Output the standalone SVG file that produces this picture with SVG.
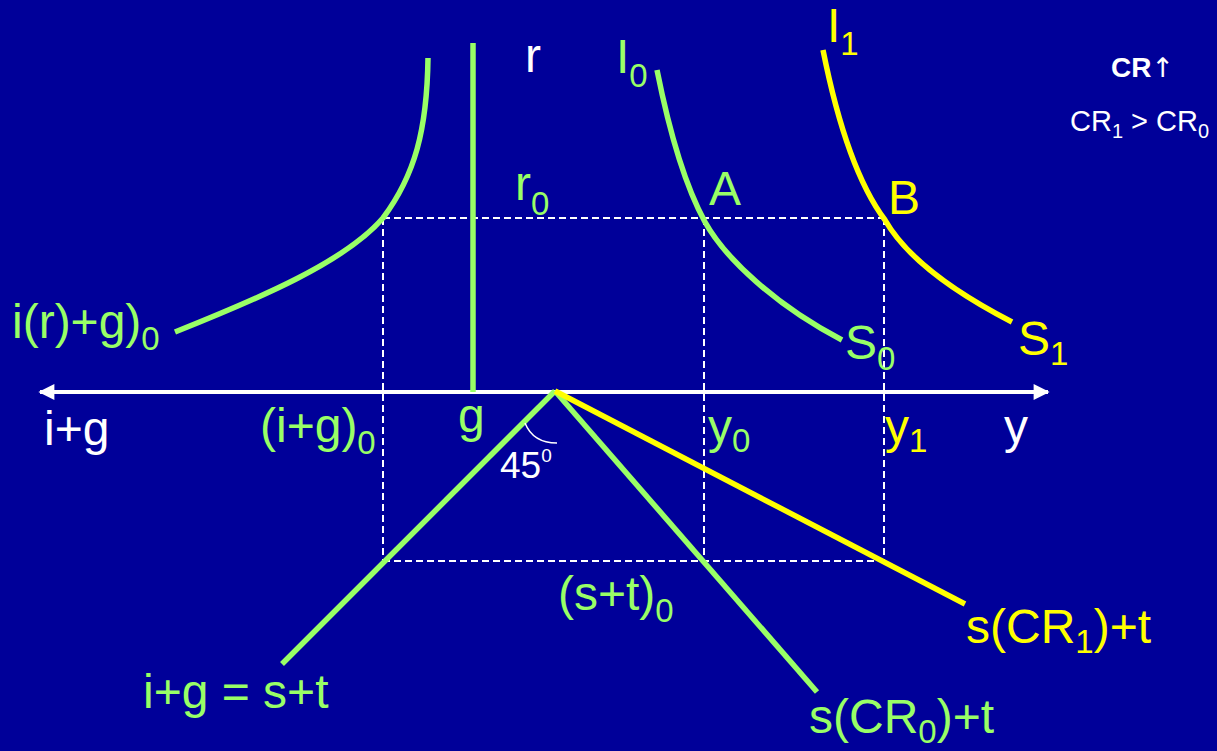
<svg xmlns="http://www.w3.org/2000/svg" width="1217" height="751" viewBox="0 0 1217 751">
<defs>
<style>
text{font-family:"Liberation Sans",Arial,sans-serif;font-size:48px}
.g{fill:#99FF66}.y{fill:#FFFF00}.w{fill:#FFFFFF}
.sub{font-size:33px}
.gl{stroke:#99FF66;stroke-width:5.5;fill:none}
.yl{stroke:#FFFF00;stroke-width:5.5;fill:none}
.dash{stroke:#FFFFFF;stroke-width:2;stroke-dasharray:7 4;fill:none}
</style>
<marker id="ah" viewBox="0 0 10 10" refX="9" refY="5" markerWidth="4.2" markerHeight="4" orient="auto-start-reverse" markerUnits="strokeWidth">
<path d="M0,0 L10,5 L0,10 Z" fill="#FFFFFF"/>
</marker>
</defs>
<rect width="1217" height="751" fill="#000099"/>
<g id="guides">
<path class="dash" d="M383,218 H884 M383,561 H884 M383,218 V561 M704,218 V561 M884,218 V561"/>
</g>
<g id="axis">
<line x1="40" y1="392" x2="1048" y2="392" stroke="#FFFFFF" stroke-width="4" marker-start="url(#ah)" marker-end="url(#ah)"/>
</g>
<g id="connectors">
<line id="g-line" class="gl" x1="473" y1="43" x2="473" y2="392"/>
<path id="irg-curve" class="gl" d="M428,58 C427,130 415,175 383,218 C345,262 260,298 175,332"/>
<path id="i0-curve" class="gl" d="M657,70 C668,125 682,180 705,222 C725,258 775,305 842,340"/>
<path id="i1-curve" class="yl" d="M823,50 C835,110 855,180 885,220 C905,255 950,290 1012,322"/>
<line id="ig-st" class="gl" x1="555" y1="391" x2="282" y2="664"/>
<line id="scr0" class="gl" x1="555" y1="391" x2="817" y2="692"/>
<line id="scr1" class="yl" x1="555" y1="391" x2="965" y2="604"/>
<path id="angle-arc" d="M525,423 Q533,443 557,443" stroke="#FFFFFF" stroke-width="1.5" fill="none"/>
</g>
<g id="labels">
<text class="w" x="525" y="72">r</text>
<text class="g" x="515" y="200">r<tspan class="sub" dy="15">0</tspan></text>
<text class="g" x="616" y="73">I<tspan class="sub" dy="14">0</tspan></text>
<text class="y" x="827" y="42">I<tspan class="sub" dy="13">1</tspan></text>
<text class="g" x="709" y="205">A</text>
<text class="y" x="888" y="214">B</text>
<text class="g" x="12" y="338">i(r)+g)<tspan class="sub" dy="12">0</tspan></text>
<text class="g" x="845" y="359">S<tspan class="sub" dy="11">0</tspan></text>
<text class="y" x="1018" y="355">S<tspan class="sub" dy="10">1</tspan></text>
<text class="w" x="44" y="445">i+g</text>
<text class="g" x="260" y="442">(i+g)<tspan class="sub" dy="12">0</tspan></text>
<text class="g" x="458" y="432">g</text>
<text class="g" x="708" y="443">y<tspan class="sub" dy="9">0</tspan></text>
<text class="y" x="885" y="443">y<tspan class="sub" dy="9">1</tspan></text>
<text class="w" x="1004" y="443">y</text>
<text class="w" x="500" y="478" style="font-size:37px">45<tspan style="font-size:19px" dy="-16">0</tspan></text>
<text class="g" x="558" y="610">(s+t)<tspan class="sub" dy="12">0</tspan></text>
<text class="g" x="143" y="708">i+g = s+t</text>
<text class="g" x="809" y="733">s(CR<tspan class="sub" dy="10">0</tspan><tspan dy="-10">)+t</tspan></text>
<text class="y" x="966" y="643">s(CR<tspan class="sub" dy="10">1</tspan><tspan dy="-10">)+t</tspan></text>
<text class="w" x="1111" y="77" style="font-size:28px;font-weight:bold">CR<tspan style="font-weight:normal;font-family:'DejaVu Sans',sans-serif;font-size:27px">↑</tspan></text>
<text class="w" x="1070" y="131" style="font-size:29px">CR<tspan style="font-size:20px" dy="7">1</tspan><tspan dy="-7"> &gt; CR</tspan><tspan style="font-size:20px" dy="7">0</tspan></text>
</g>
</svg>
